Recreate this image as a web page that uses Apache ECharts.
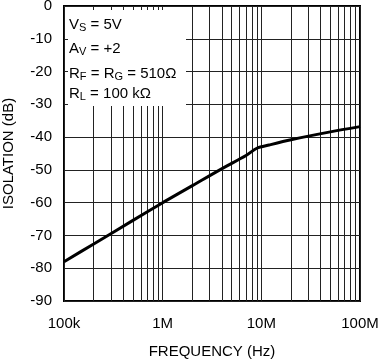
<!DOCTYPE html>
<html>
<head>
<meta charset="utf-8">
<script src="https://cdn.jsdelivr.net/npm/echarts@6/dist/echarts.min.js"></script>
<style>
html,body{margin:0;padding:0;background:#fff;}
#c{width:378px;height:359px;}
</style>
</head>
<body>
<div id="c"></div>
<script>
// Data
const freqs = [1e5, 2e5, 5e5, 1e6, 2e6, 4e6, 7e6, 9e6, 1.2e7, 2e7, 5e7, 1e8];
const isolation = [-78, -72.6, -65.4, -60, -54.8, -49.6, -45.6, -43.4, -42.4, -40.8, -38.4, -36.8];
const xTickValues = [1e5, 1e6, 1e7, 1e8];
const xTickLabels = ['100k', '1M', '10M', '100M'];
const minorGrid = [2e5,3e5,4e5,5e5,6e5,7e5,8e5,9e5,2e6,3e6,4e6,5e6,6e6,7e6,8e6,9e6,2e7,3e7,4e7,5e7,6e7,7e7,8e7,9e7];

const FONT = 'Liberation Sans, Arial, Helvetica, sans-serif';
const FS = 15;
const chart = echarts.init(document.getElementById('c'), null, {renderer: 'canvas'});

const rich = {
  n: {fontSize: 15, fontFamily: FONT, lineHeight: 18, fill: '#000'},
  s: {fontSize: 11, fontFamily: FONT, lineHeight: 10, verticalAlign: 'bottom', fill: '#000'}
};
function label(txt, y) {
  return {type: 'text', left: 69, top: y, z: 20, style: {text: txt, rich: rich, font: '15px ' + FONT, fill: '#000'}};
}

chart.setOption({
  animation: false,
  backgroundColor: '#fff',
  grid: {left: 64, right: 18, top: 6, bottom: 58, outerBoundsMode: 'none', containLabel: false,
         show: true, borderColor: '#000', borderWidth: 2, backgroundColor: 'transparent'},
  xAxis: {
    type: 'log', logBase: 10, min: 1e5, max: 1e8,
    name: 'FREQUENCY (Hz)', nameLocation: 'middle', nameGap: 43,
    nameTextStyle: {fontSize: FS, fontFamily: FONT, color: '#000'},
    axisLine: {show: false}, axisTick: {show: false},
    axisLabel: {fontSize: FS, fontFamily: FONT, color: '#000', margin: 15,
      formatter: function (v) { const i = xTickValues.findIndex(t => Math.abs(t - v) / t < 1e-6); return i >= 0 ? xTickLabels[i] : ''; }},
    splitLine: {show: true, lineStyle: {color: '#222', width: 1}}
  },
  yAxis: {
    type: 'value', min: -90, max: 0, interval: 10,
    name: 'ISOLATION (dB)', nameLocation: 'middle', nameGap: 48,
    nameTextStyle: {fontSize: FS, fontFamily: FONT, color: '#000'},
    axisLine: {show: false}, axisTick: {show: false},
    axisLabel: {fontSize: FS, fontFamily: FONT, color: '#000', margin: 12},
    splitLine: {show: true, lineStyle: {color: '#222', width: 1}}
  },
  series: [
    {
      type: 'line', data: [], silent: true, z: 1,
      markLine: {
        silent: true, symbol: ['none', 'none'], label: {show: false},
        lineStyle: {color: '#222', width: 1, type: 'solid'},
        data: minorGrid.map(v => ({xAxis: v}))
      }
    },
    {
      type: 'line', smooth: 0.3, showSymbol: false, z: 5,
      lineStyle: {color: '#000', width: 3},
      data: freqs.map((f, i) => [f, isolation[i]])
    }
  ],
  graphic: [
    {type: 'rect', shape: {x: 68, y: 10, width: 118, height: 96}, z: 15, style: {fill: '#fff'}},
    label('{n|V}{s|S}{n| = 5V}', 17),
    label('{n|A}{s|V}{n| = +2}', 41),
    label('{n|R}{s|F}{n| = R}{s|G}{n| = 510Ω}', 66),
    label('{n|R}{s|L}{n| = 100 kΩ}', 86)
  ]
});
</script>
</body>
</html>
